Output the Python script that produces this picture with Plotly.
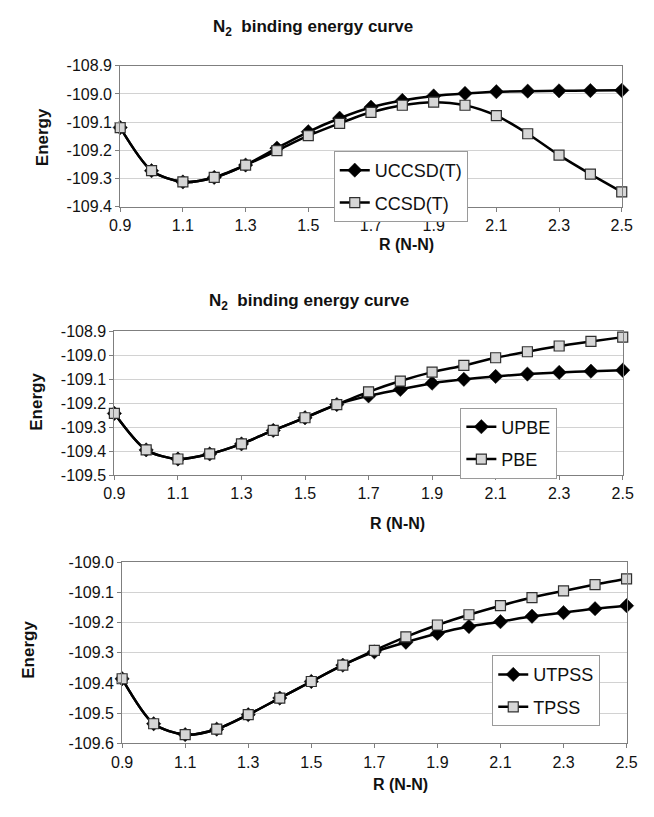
import plotly.graph_objects as go

# Bond length R (N-N) grid
r_nn = [0.9, 1.0, 1.1, 1.2, 1.3, 1.4, 1.5, 1.6, 1.7, 1.8, 1.9, 2.0, 2.1, 2.2, 2.3, 2.4, 2.5]

# Coupled-cluster energies
uccsd_t = [-109.119, -109.272, -109.312, -109.296, -109.252, -109.192, -109.134, -109.086,
           -109.047, -109.023, -109.007, -108.998, -108.992, -108.990, -108.989, -108.988, -108.987]
ccsd_t = [-109.119, -109.272, -109.312, -109.296, -109.252, -109.201, -109.148, -109.104,
          -109.065, -109.040, -109.029, -109.040, -109.077, -109.141, -109.217, -109.284, -109.347]

# PBE energies
upbe = [-109.243, -109.395, -109.433, -109.412, -109.370, -109.314, -109.261, -109.206,
        -109.170, -109.143, -109.117, -109.101, -109.089, -109.079, -109.072, -109.067, -109.063]
pbe = [-109.243, -109.395, -109.433, -109.412, -109.370, -109.314, -109.261, -109.206,
       -109.153, -109.108, -109.071, -109.043, -109.011, -108.986, -108.962, -108.943, -108.925]

# TPSS energies
utpss = [-109.386, -109.535, -109.571, -109.553, -109.505, -109.450, -109.395, -109.341,
         -109.297, -109.265, -109.236, -109.213, -109.197, -109.179, -109.167, -109.154, -109.144]
tpss = [-109.386, -109.535, -109.571, -109.553, -109.505, -109.450, -109.395, -109.341,
        -109.292, -109.247, -109.208, -109.174, -109.144, -109.117, -109.095, -109.074, -109.055]

x_ticks = [0.9, 1.1, 1.3, 1.5, 1.7, 1.9, 2.1, 2.3, 2.5]
y_ticks_1 = [-108.9, -109.0, -109.1, -109.2, -109.3, -109.4]
y_ticks_2 = [-108.9, -109.0, -109.1, -109.2, -109.3, -109.4, -109.5]
y_ticks_3 = [-109.0, -109.1, -109.2, -109.3, -109.4, -109.5, -109.6]

panel_title = "<b>N<sub>2</sub>  binding energy curve</b>"
x_title = "<b>R (N-N)</b>"
y_title = "<b>Energy</b>"

FONT = "Liberation Sans, Arial, sans-serif"
W, H = 654, 817


def py(px):
    return 1 - px / H


def px_x(px):
    return px / W


fig = go.Figure()

panels = [
    ("", "legend", uccsd_t, ccsd_t, "UCCSD(T)", "CCSD(T)"),
    ("2", "legend2", upbe, pbe, "UPBE", "PBE"),
    ("3", "legend3", utpss, tpss, "UTPSS", "TPSS"),
]

for sfx, leg, u_vals, r_vals, u_name, r_name in panels:
    common = dict(x=r_nn, mode="lines+markers", xaxis="x" + sfx, yaxis="y" + sfx,
                  legend=leg, line=dict(color="black", width=2.5, shape="spline", smoothing=0.8),
                  cliponaxis=False)
    fig.add_trace(go.Scatter(y=u_vals, name=u_name, legendgroup=u_name,
                             marker=dict(symbol="diamond", size=11, color="black",
                                         line=dict(color="black", width=0.5)),
                             **common))
    fig.add_trace(go.Scatter(y=r_vals, name=r_name, legendgroup=r_name,
                             marker=dict(symbol="square", size=10, color="#d6d6d6",
                                         line=dict(color="#303030", width=1.2)),
                             **common))

# plot-area boxes in pixels: (left, right, top, bottom)
boxes = [(113, 632, 59, 203), (107, 633, 330, 477), (115, 637, 566, 751)]
y_ranges = [[-109.4, -108.9], [-109.5, -108.9], [-109.6, -109.0]]
y_tick_sets = [y_ticks_1, y_ticks_2, y_ticks_3]

axis_style = dict(showline=True, linecolor="#7f7f7f", linewidth=1, mirror=True,
                  ticks="outside", ticklen=4, tickcolor="#7f7f7f",
                  tickfont=dict(family=FONT, size=16, color="#111"), zeroline=False)

layout = dict(width=W, height=H, margin=dict(l=0, r=0, t=0, b=0),
              paper_bgcolor="white", plot_bgcolor="white", showlegend=True)

for i, ((l, r, t, b), rng, tv) in enumerate(zip(boxes, y_ranges, y_tick_sets)):
    sfx = "" if i == 0 else str(i + 1)
    layout["xaxis" + sfx] = dict(domain=[px_x(l), px_x(r)], range=[0.9, 2.5], anchor="y" + sfx,
                                 tickvals=x_ticks, ticktext=[f"{v:.1f}" for v in x_ticks],
                                 showgrid=False, **axis_style)
    layout["yaxis" + sfx] = dict(domain=[py(b), py(t)], range=rng, anchor="x" + sfx,
                                 tickvals=tv, ticktext=[f"{v:.1f}" for v in tv],
                                 showgrid=True, gridcolor="#d2d2d2", gridwidth=1,
                                 **axis_style)

legend_style = dict(bgcolor="white", bordercolor="#9a9a9a", borderwidth=1,
                    font=dict(family=FONT, size=18, color="#111"),
                    tracegroupgap=6, xanchor="left", yanchor="top", itemwidth=30)
layout["legend"] = dict(x=px_x(334), y=py(146), **legend_style)
layout["legend2"] = dict(x=px_x(465), y=py(408), **legend_style)
layout["legend3"] = dict(x=px_x(498), y=py(661), **legend_style)

fig.update_layout(**layout)

ann = []
centered = dict(xref="paper", yref="paper", showarrow=False, xanchor="center", yanchor="middle")
for tx, ty in ((312, 20), (308, 300)):
    ann.append(dict(text=panel_title, x=px_x(tx), y=py(ty),
                    font=dict(family=FONT, size=17, color="#111"), **centered))
for tx, ty in ((409, 242), (400, 526), (403, 793)):
    ann.append(dict(text=x_title, x=px_x(tx), y=py(ty),
                    font=dict(family=FONT, size=16, color="#111"), **centered))
for tx, ty in ((32, 132), (27, 402), (18, 655)):
    ann.append(dict(text=y_title, x=px_x(tx), y=py(ty), textangle=-90,
                    font=dict(family=FONT, size=17, color="#111"), **centered))
fig.update_layout(annotations=ann)

fig.write_html("out.html")
